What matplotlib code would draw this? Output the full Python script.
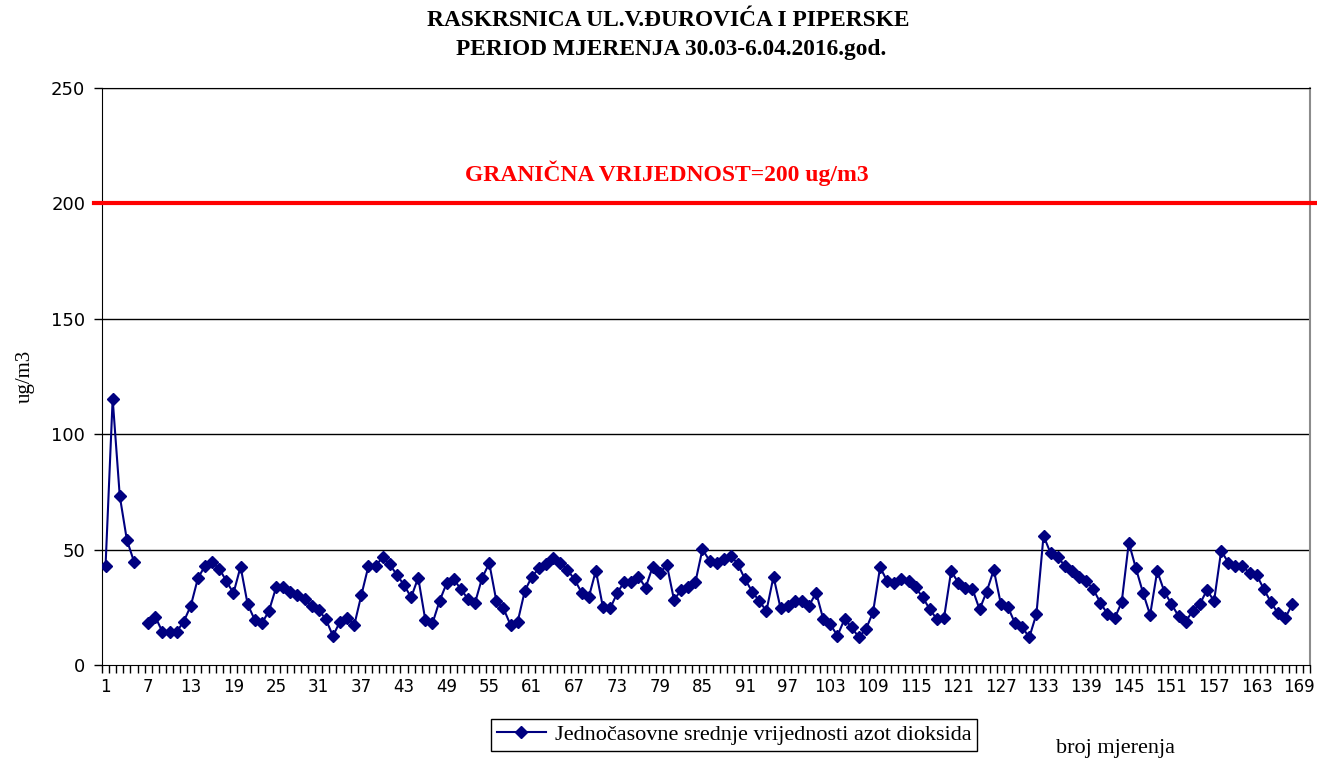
import numpy as np
from matplotlib import pyplot as plt
from matplotlib.ticker import FixedLocator, NullFormatter

# hourly NO2 means (ug/m3), measurement 6 missing
NO2_VALUES = [
    43.0, 115.3, 73.2, 54.2, 44.8, np.nan, 18.0, 20.9, 14.4, 14.4, 14.4, 18.8, 25.7, 37.6,
    43.0, 44.5, 41.7, 36.4, 31.1, 42.6, 26.3, 19.5, 18.0, 23.5, 33.6, 33.6, 31.8, 30.3,
    28.6, 25.6, 23.8, 19.8, 12.6, 18.8, 20.5, 17.3, 30.3, 42.9, 42.9, 46.7, 43.6, 39.0,
    34.7, 29.3, 37.8, 19.5, 18.0, 27.7, 35.4, 37.1, 32.9, 28.6, 27.0, 37.8, 44.1, 27.7,
    24.5, 17.3, 18.8, 32.1, 38.3, 41.9, 43.6, 46.2, 44.1, 41.2, 37.1, 31.3, 29.3, 40.9,
    25.0, 24.5, 31.1, 36.1, 35.8, 38.3, 33.5, 42.6, 40.0, 43.3, 28.2, 32.5, 33.9, 35.8,
    50.1, 45.2, 44.1, 45.8, 47.4, 43.6, 37.1, 31.8, 27.7, 23.4, 38.3, 24.5, 25.7, 27.7,
    27.7, 25.7, 31.3, 19.9, 17.6, 12.7, 19.9, 16.3, 12.0, 15.5, 22.8, 42.3, 36.4, 35.7,
    37.1, 36.5, 33.6, 29.3, 24.1, 19.8, 20.5, 40.7, 35.7, 33.5, 32.9, 24.1, 31.8, 41.2,
    26.4, 25.0, 18.0, 16.3, 12.0, 22.1, 56.0, 48.4, 46.7, 43.0, 40.7, 38.3, 36.4, 32.8,
    27.0, 22.1, 20.2, 27.2, 53.0, 41.9, 31.3, 21.7, 40.7, 31.8, 26.4, 21.2, 18.8, 23.5,
    26.4, 32.5, 27.7, 49.5, 44.4, 43.0, 43.0, 39.7, 39.0, 32.9, 27.2, 22.4, 20.2, 26.4,
]
N_CATEGORIES = 170
LIMIT_VALUE = 200
X_TICK_LABELS = list(range(1, 170, 6))
Y_TICKS = [0, 50, 100, 150, 200, 250]

SERIF = "Liberation Serif"
NAVY = "#000080"

fig = plt.figure(figsize=(13.17, 7.6), dpi=100)
ax = fig.add_axes([102 / 1317, 1 - 665 / 760, 1208 / 1317, 577 / 760])

x = np.arange(1, len(NO2_VALUES) + 1)
line, = ax.plot(x, NO2_VALUES, color=NAVY, lw=1.5, marker="D", markersize=6,
                markeredgecolor=NAVY, zorder=4,
                label="Jednočasovne srednje vrijednosti azot dioksida")

ax.set_xlim(0.5, N_CATEGORIES + 0.5)
ax.set_ylim(0, 250)

# grid lines
for v in Y_TICKS[1:]:
    ax.axhline(v, color="black", lw=1, zorder=1)

# limit value line
ax.axhline(LIMIT_VALUE, xmin=-0.007, xmax=1.006, color="#ff0000", lw=3, clip_on=False, zorder=3)
ax.text(80, 213, "GRANIČNA VRIJEDNOST=200 ug/m3", color="#ff0000",
        fontsize=17, fontweight="bold", family=SERIF, ha="center", va="center")

# category axis: ticks on boundaries, labels on every 6th category
ax.xaxis.set_major_locator(FixedLocator(np.arange(0.5, N_CATEGORIES + 1, 1)))
ax.xaxis.set_major_formatter(NullFormatter())
ax.xaxis.set_minor_locator(FixedLocator(X_TICK_LABELS))
ax.set_xticklabels([str(v) for v in X_TICK_LABELS], minor=True)
ax.tick_params(axis="x", which="major", length=6, width=1, color="black", direction="out")
ax.tick_params(axis="x", which="minor", length=0, pad=9, labelsize=12)

ax.set_yticks(Y_TICKS)
ax.tick_params(axis="y", length=6, width=1, direction="out", labelsize=13, pad=6)

for side in ("left", "bottom", "top"):
    ax.spines[side].set_color("black")
ax.spines["right"].set_color("#8c8c8c")
ax.spines["right"].set_linewidth(1.5)

ax.set_ylabel("ug/m3", family=SERIF, fontsize=15, labelpad=12)

fig.text(668 / 1317, 1 - 20 / 760, "RASKRSNICA UL.V.ĐUROVIĆA I PIPERSKE", family=SERIF,
         fontsize=16.8, fontweight="bold", ha="center", va="center")
fig.text(671 / 1317, 1 - 49 / 760, "PERIOD MJERENJA 30.03-6.04.2016.god.", family=SERIF,
         fontsize=16.8, fontweight="bold", ha="center", va="center")

fig.text(1115 / 1317, 1 - 748 / 760, "broj mjerenja", family=SERIF, fontsize=16,
         ha="center", va="center")

leg = fig.legend(handles=[line], loc="center", bbox_to_anchor=(734 / 1317, 1 - 735 / 760),
                 prop={"family": SERIF, "size": 16}, fancybox=False, framealpha=1,
                 edgecolor="black", borderpad=0.25, handlelength=2.2, handletextpad=0.4)
leg.get_frame().set_linewidth(1)

fig.savefig("out.png", dpi=100)
